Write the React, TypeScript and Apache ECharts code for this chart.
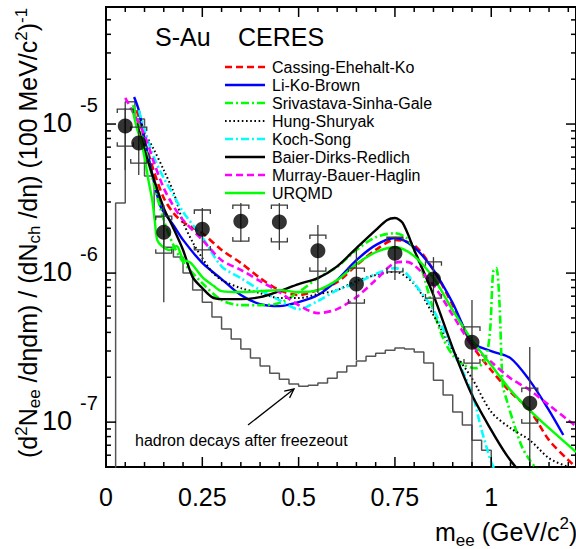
import React, { useEffect, useRef } from "react";
import * as echarts from "echarts";

const FONT = '"Liberation Sans", Arial, Helvetica, sans-serif';

// Axis ranges
const X_MIN = 0;
const X_MAX = 1.22;
const Y_MIN = 5e-8;
const Y_MAX = 6.1e-5;

// Tick positions and labels
const xMajorTicks = [0, 0.25, 0.5, 0.75, 1];
const xTickLabels = ["0", "0.25", "0.5", "0.75", "1"];
const xMinorTicks = [0.05, 0.1, 0.15, 0.2, 0.3, 0.35, 0.4, 0.45, 0.55, 0.6, 0.65, 0.7, 0.8, 0.85, 0.9, 0.95, 1.05, 1.1, 1.15, 1.2];
const yMajorTicks = [1e-7, 1e-6, 1e-5];
const yTickExponents = ["-7", "-6", "-5"];
const yMinorTicks = [6e-8, 7e-8, 8e-8, 9e-8, 2e-7, 3e-7, 4e-7, 5e-7, 6e-7, 7e-7, 8e-7, 9e-7, 2e-6, 3e-6, 4e-6, 5e-6, 6e-6, 7e-6, 8e-6, 9e-6, 2e-5, 3e-5, 4e-5, 5e-5];

// CERES S-Au measured points (mass in GeV/c^2)
const dataMass = [0.05, 0.085, 0.15, 0.25, 0.35, 0.45, 0.55, 0.65, 0.75, 0.85, 0.95, 1.1];
const dataYield = [9.7e-6, 7.45e-6, 1.88e-6, 1.97e-6, 2.23e-6, 2.2e-6, 1.41e-6, 8.44e-7, 1.36e-6, 9.12e-7, 3.44e-7, 1.34e-7];
const statHigh = [1.28e-5, 9.55e-6, 2.86e-6, 2.73e-6, 2.95e-6, 2.95e-6, 2.1e-6, 1.43e-6, 1.74e-6, 1.28e-6, 6.59e-7, 3.19e-7];
const statLow = [4.91e-6, 4.55e-6, 6.38e-7, 1.19e-6, 1.62e-6, 1.43e-6, 7.34e-7, 2.61e-7, 8.98e-7, 5.39e-7, 1e-8, 1e-8];
const sysHigh = [1.26e-5, 9.55e-6, 2.41e-6, 2.65e-6, 2.86e-6, 2.86e-6, 1.8e-6, 1.08e-6, 1.74e-6, 1.19e-6, 4.35e-7, 1.69e-7];
const sysLow = [7.11e-6, 5.47e-6, 1.36e-6, 1.43e-6, 1.64e-6, 1.62e-6, 1.03e-6, 6.29e-7, 1.02e-6, 6.8e-7, 2.49e-7, 9.85e-8];

// Hadron decay cocktail histogram (bin left edges, 0.025 GeV wide)
const histEdges = [0.025, 0.05, 0.075, 0.1, 0.125, 0.15, 0.175, 0.2, 0.225, 0.25, 0.275, 0.3, 0.325, 0.35, 0.375, 0.4, 0.425, 0.45, 0.475, 0.5, 0.525, 0.55, 0.575, 0.6, 0.625, 0.65, 0.675, 0.7, 0.725, 0.75, 0.775, 0.8, 0.825, 0.85, 0.875, 0.9, 0.925, 0.95, 0.975, 1.0];
const histCounts = [2.95e-6, 1.41e-5, 1.08e-5, 4.48e-6, 2.38e-6, 1.49e-6, 1.28e-6, 1.0e-6, 7.69e-7, 6.38e-7, 5.07e-7, 4.21e-7, 3.61e-7, 3.09e-7, 2.69e-7, 2.38e-7, 2.13e-7, 1.94e-7, 1.8e-7, 1.74e-7, 1.77e-7, 1.83e-7, 1.97e-7, 2.17e-7, 2.38e-7, 2.57e-7, 2.77e-7, 2.9e-7, 3.04e-7, 3.14e-7, 3.09e-7, 2.95e-7, 2.49e-7, 1.91e-7, 1.52e-7, 1.17e-7, 9.55e-8, 7.57e-8, 6.48e-8, 4.5e-8];
const HIST_END = 1.025;

// Model calculations
const cassingEhehaltKo = [[0.08, 1.24e-5], [0.1, 7.81e-6], [0.125, 4.76e-6], [0.15, 3.19e-6], [0.175, 2.53e-6], [0.2, 2.2e-6], [0.25, 1.85e-6], [0.3, 1.43e-6], [0.35, 1.17e-6], [0.4, 9.26e-7], [0.45, 7.69e-7], [0.5, 7.12e-7], [0.55, 7.69e-7], [0.6, 8.7e-7], [0.65, 1.13e-6], [0.7, 1.43e-6], [0.75, 1.67e-6], [0.8, 1.54e-6], [0.85, 1.05e-6], [0.9, 6.1e-7], [0.95, 3.29e-7], [1.0, 2.23e-7], [1.05, 1.59e-7], [1.1, 1.2e-7], [1.15, 7.57e-8], [1.2, 5.56e-8], [1.22, 5.0e-8]];
const liKoBrown = [[0.073, 1.52e-5], [0.085, 1.24e-5], [0.1, 7.81e-6], [0.115, 5.31e-6], [0.125, 4.02e-6], [0.14, 2.86e-6], [0.15, 2.57e-6], [0.175, 2.1e-6], [0.2, 1.67e-6], [0.25, 1.17e-6], [0.3, 9.12e-7], [0.35, 7.12e-7], [0.4, 6.19e-7], [0.45, 6.0e-7], [0.5, 6.38e-7], [0.55, 7.12e-7], [0.6, 8.98e-7], [0.65, 1.22e-6], [0.7, 1.54e-6], [0.75, 1.72e-6], [0.8, 1.49e-6], [0.85, 1.05e-6], [0.9, 6.3e-7], [0.95, 3.44e-7], [1.0, 3.0e-7], [1.05, 2.69e-7], [1.1, 1.9e-7], [1.15, 1.2e-7], [1.187, 8.2e-8]];
const srivastavaSinhaGale = [[0.07, 1.34e-5], [0.1, 7.23e-6], [0.125, 3.9e-6], [0.15, 2.27e-6], [0.175, 1.54e-6], [0.2, 1.19e-6], [0.25, 8.57e-7], [0.3, 6.59e-7], [0.35, 6.1e-7], [0.4, 6.1e-7], [0.45, 6.29e-7], [0.5, 7.46e-7], [0.55, 9.26e-7], [0.6, 1.1e-6], [0.65, 1.43e-6], [0.7, 1.74e-6], [0.75, 1.85e-6], [0.78, 1.72e-6], [0.8, 1.43e-6], [0.82, 1.05e-6], [0.85, 5.64e-7], [0.875, 3.66e-7], [0.9, 2.82e-7], [0.93, 2.41e-7], [0.96, 2.3e-7], [0.985, 2.69e-7], [0.997, 4.14e-7], [1.005, 1.02e-6], [1.013, 1.08e-6], [1.021, 6.59e-7], [1.03, 1.77e-7], [1.04, 1.41e-7], [1.06, 9.55e-8], [1.08, 6.8e-8], [1.1, 5.56e-8], [1.12, 4.77e-8]];
const hungShuryak = [[0.09, 1.06e-5], [0.1, 8.84e-6], [0.125, 6.69e-6], [0.15, 4.91e-6], [0.175, 3.5e-6], [0.2, 2.2e-6], [0.225, 1.61e-6], [0.25, 1.26e-6], [0.275, 1.02e-6], [0.3, 8.98e-7], [0.35, 7.93e-7], [0.4, 7.34e-7], [0.45, 6.8e-7], [0.5, 6.8e-7], [0.55, 7.23e-7], [0.6, 7.69e-7], [0.65, 8.84e-7], [0.7, 9.7e-7], [0.75, 1.02e-6], [0.8, 8.44e-7], [0.85, 5.22e-7], [0.9, 3.04e-7], [0.95, 1.97e-7], [1.0, 1.17e-7], [1.05, 9.11e-8], [1.1, 7.57e-8], [1.15, 5.73e-8], [1.2, 5.0e-8], [1.22, 4.8e-8]];
const kochSong = [[0.085, 1.24e-5], [0.1, 9.11e-6], [0.125, 5.91e-6], [0.15, 4.34e-6], [0.175, 3.34e-6], [0.2, 2.57e-6], [0.25, 1.74e-6], [0.3, 1.11e-6], [0.35, 9.26e-7], [0.4, 7.69e-7], [0.45, 6.59e-7], [0.5, 5.73e-7], [0.55, 6.5e-7], [0.6, 7.69e-7], [0.65, 8.57e-7], [0.7, 9.85e-7], [0.75, 1.08e-6], [0.775, 1.02e-6], [0.8, 8.57e-7], [0.85, 5.64e-7], [0.9, 3.04e-7], [0.95, 1.56e-7], [0.975, 8.84e-8], [1.0, 5.39e-8], [1.01, 4.77e-8]];
const baierDirksRedlich = [[0.08, 1.02e-5], [0.1, 6.69e-6], [0.125, 4.21e-6], [0.15, 2.73e-6], [0.175, 2.0e-6], [0.2, 1.43e-6], [0.225, 9.4e-7], [0.25, 7.93e-7], [0.275, 6.9e-7], [0.3, 6.69e-7], [0.35, 6.69e-7], [0.4, 6.9e-7], [0.45, 7.57e-7], [0.5, 8.44e-7], [0.55, 9.26e-7], [0.6, 1.11e-6], [0.65, 1.47e-6], [0.7, 1.94e-6], [0.73, 2.27e-6], [0.75, 2.34e-6], [0.77, 2.17e-6], [0.8, 1.43e-6], [0.85, 7.12e-7], [0.9, 3.14e-7], [0.95, 1.52e-7], [1.0, 8.84e-8], [1.04, 6.0e-8], [1.07, 4.77e-8]];
const murrayBauerHaglin = [[0.05, 1.5e-5], [0.07, 1.2e-5], [0.1, 8.44e-6], [0.125, 5.47e-6], [0.15, 3.72e-6], [0.175, 2.82e-6], [0.2, 2.27e-6], [0.25, 1.67e-6], [0.3, 1.22e-6], [0.35, 1.05e-6], [0.4, 8.84e-7], [0.45, 7.46e-7], [0.5, 6.1e-7], [0.55, 5.39e-7], [0.6, 5.73e-7], [0.65, 6.9e-7], [0.7, 8.98e-7], [0.75, 1.17e-6], [0.78, 1.19e-6], [0.8, 1.13e-6], [0.85, 8.31e-7], [0.9, 5.22e-7], [0.95, 3.29e-7], [1.0, 2.53e-7], [1.05, 1.97e-7], [1.1, 1.64e-7], [1.15, 1.3e-7], [1.2, 1.03e-7], [1.22, 9.4e-8]];
const urqmd = [[0.068, 1.28e-5], [0.08, 9.4e-6], [0.09, 7.81e-6], [0.1, 6.0e-6], [0.11, 4.21e-6], [0.12, 3.09e-6], [0.127, 2.2e-6], [0.133, 1.67e-6], [0.145, 1.52e-6], [0.165, 1.43e-6], [0.183, 1.52e-6], [0.2, 1.24e-6], [0.22, 1.17e-6], [0.25, 9.4e-7], [0.28, 8.18e-7], [0.3, 7.57e-7], [0.35, 7.46e-7], [0.4, 7.57e-7], [0.45, 7.69e-7], [0.5, 7.46e-7], [0.55, 7.69e-7], [0.6, 8.98e-7], [0.65, 1.15e-6], [0.7, 1.38e-6], [0.75, 1.49e-6], [0.8, 1.3e-6], [0.85, 9.26e-7], [0.9, 5.64e-7], [0.95, 3.55e-7], [1.0, 2.41e-7], [1.05, 1.64e-7], [1.1, 1.2e-7], [1.15, 9.11e-8], [1.2, 7.01e-8], [1.22, 6.29e-8]];

const DASH = [7, 4];
const DASH_DOT = [8, 3, 2, 3];
const DOT = [1.6, 2.6];

const models: any[] = [
  { name: "Cassing-Ehehalt-Ko", color: "#ff0000", width: 2.6, dash: DASH, data: cassingEhehaltKo },
  { name: "Li-Ko-Brown", color: "#0000ff", width: 2.4, dash: null, data: liKoBrown },
  { name: "Srivastava-Sinha-Gale", color: "#00ff00", width: 2.6, dash: DASH_DOT, data: srivastavaSinhaGale },
  { name: "Hung-Shuryak", color: "#000000", width: 2, dash: DOT, data: hungShuryak },
  { name: "Koch-Song", color: "#00ffff", width: 2.6, dash: DASH_DOT, data: kochSong },
  { name: "Baier-Dirks-Redlich", color: "#000000", width: 2.4, dash: null, data: baierDirksRedlich },
  { name: "Murray-Bauer-Haglin", color: "#ff00ff", width: 2.6, dash: DASH, data: murrayBauerHaglin },
  { name: "URQMD", color: "#00ff00", width: 2.4, dash: null, data: urqmd },
];

const ctx2d = typeof document !== "undefined" ? document.createElement("canvas").getContext("2d") : null;
function textWidth(t: string, size: number): number {
  if (!ctx2d) return t.length * size * 0.55;
  ctx2d.font = `${size}px ${FONT}`;
  return ctx2d.measureText(t).width;
}

// Lay out a run of text pieces (normal / sub / sup) one after another.
function textRun(pieces: { t: string; size: number; dy: number }[]): any[] {
  let x = 0;
  return pieces.map((p) => {
    const el = {
      type: "text",
      x,
      y: p.dy,
      silent: true,
      style: { text: p.t, fontSize: p.size, fontFamily: FONT, fill: "#000", align: "left", verticalAlign: "middle" },
    };
    x += textWidth(p.t, p.size);
    return el;
  });
}

function buildOption(): any {
  const M = 25;
  const S = 17;
  const yTitle = textRun([
    { t: "(d", size: M, dy: -7.7 },
    { t: "2", size: S, dy: -14.5 },
    { t: "N", size: M, dy: -7.7 },
    { t: "ee", size: S, dy: -1.3 },
    { t: " /dηdm) / (dN", size: M, dy: -7.7 },
    { t: "ch", size: S, dy: -1.3 },
    { t: " /dη) (100 MeV/c", size: M, dy: -7.7 },
    { t: "2", size: S, dy: -14.5 },
    { t: ")", size: M, dy: -7.7 },
    { t: "-1", size: S, dy: -14.5 },
  ]);
  const xTitle = textRun([
    { t: "m", size: M, dy: 0 },
    { t: "ee", size: S, dy: 8 },
    { t: " (GeV/c", size: M, dy: 0 },
    { t: "2", size: S, dy: -9 },
    { t: ")", size: M, dy: 0 },
  ]);

  const legendTop = 67;
  const legendStep = 18;
  const legendEls: any[] = [];
  models.forEach((m, i) => {
    const y = legendTop + i * legendStep;
    legendEls.push({
      type: "line",
      silent: true,
      shape: { x1: 225, y1: y, x2: 265, y2: y },
      style: { stroke: m.color, lineWidth: m.width, lineDash: m.dash || undefined },
    });
    legendEls.push({
      type: "text",
      silent: true,
      x: 272,
      y: y,
      style: { text: m.name, fontSize: 16, fontFamily: FONT, fill: "#000", align: "left", verticalAlign: "middle" },
    });
  });

  const lineSeries = models.map((m) => ({
    type: "line",
    name: m.name,
    data: m.data,
    showSymbol: false,
    symbol: "none",
    smooth: 0.3,
    silent: true,
    z: 3,
    lineStyle: { color: m.color, width: m.width, type: m.dash || "solid", cap: "butt" },
  }));

  const histData: any[] = [[histEdges[0], 1e-9]];
  histEdges.forEach((e, i) => histData.push([e, histCounts[i]]));
  histData.push([HIST_END, histCounts[histCounts.length - 1]]);

  return {
    animation: false,
    backgroundColor: "#fff",
    grid: {
      left: 106,
      top: 7,
      width: 470,
      height: 460,
      show: true,
      borderColor: "#000",
      borderWidth: 2,
      backgroundColor: "transparent",
    },
    xAxis: {
      type: "value",
      min: X_MIN,
      max: X_MAX,
      axisLine: { show: false },
      axisTick: { show: false },
      axisLabel: { show: false },
      splitLine: { show: false },
    },
    yAxis: {
      type: "log",
      logBase: 10,
      min: Y_MIN,
      max: Y_MAX,
      axisLine: { show: false },
      axisTick: { show: false },
      axisLabel: { show: false },
      splitLine: { show: false },
    },
    graphic: [
      { type: "text", x: 155, y: 37, silent: true, style: { text: "S-Au", fontSize: 25, fontFamily: FONT, fill: "#000", verticalAlign: "middle" } },
      { type: "text", x: 238, y: 37, silent: true, style: { text: "CERES", fontSize: 25, fontFamily: FONT, fill: "#000", verticalAlign: "middle" } },
      ...legendEls,
      { type: "text", x: 135, y: 440, silent: true, style: { text: "hadron decays after freezeout", fontSize: 16, fontFamily: FONT, fill: "#000", verticalAlign: "middle" } },
      { type: "line", silent: true, shape: { x1: 248, y1: 425, x2: 294, y2: 389 }, style: { stroke: "#000", lineWidth: 1.3 } },
      { type: "polyline", silent: true, shape: { points: [[284.2, 391.2], [294, 389], [289.6, 397.9]] }, style: { stroke: "#000", lineWidth: 1.3, fill: null } },
      { type: "group", x: 36, y: 458, rotation: Math.PI / 2, children: yTitle },
      { type: "group", x: 435, y: 532, children: xTitle },
    ],
    series: [
      {
        type: "line",
        name: "hadron decays",
        data: histData,
        step: "end",
        showSymbol: false,
        symbol: "none",
        silent: true,
        z: 2,
        lineStyle: { color: "#555", width: 1.5 },
      },
      ...lineSeries,
      {
        type: "custom",
        name: "errors",
        data: dataMass.map((m, i) => [m, dataYield[i]]),
        clip: false,
        silent: true,
        z: 4,
        renderItem: (params: any, api: any) => {
          const i = params.dataIndex;
          const cs = params.coordSys;
          const clampY = (y: number) => Math.min(Math.max(y, cs.y), cs.y + cs.height);
          const x = api.coord([dataMass[i], dataYield[i]])[0];
          const py = (v: number) => clampY(api.coord([dataMass[i], v])[1]);
          const sh = py(statHigh[i]);
          const sl = py(statLow[i]);
          const yh = py(sysHigh[i]);
          const yl = py(sysLow[i]);
          const hw = 8;
          const cap = 4;
          const st = { stroke: "#3a3a3a", lineWidth: 1.3, fill: null };
          return {
            type: "group",
            children: [
              { type: "line", shape: { x1: x, y1: sh, x2: x, y2: sl }, style: st },
              { type: "polyline", shape: { points: [[x - hw, yh + cap], [x - hw, yh], [x + hw, yh], [x + hw, yh + cap]] }, style: st },
              { type: "polyline", shape: { points: [[x - hw, yl - cap], [x - hw, yl], [x + hw, yl], [x + hw, yl - cap]] }, style: st },
            ],
          };
        },
      },
      {
        type: "scatter",
        name: "CERES",
        data: dataMass.map((m, i) => [m, dataYield[i]]),
        symbol: "circle",
        symbolSize: 15,
        itemStyle: { color: "#000" },
        silent: true,
        z: 5,
      },
      {
        type: "custom",
        name: "axes",
        data: [[0.5, 1e-6]],
        clip: false,
        silent: true,
        z: 6,
        renderItem: (params: any, api: any) => {
          const cs = params.coordSys;
          const left = cs.x;
          const right = cs.x + cs.width;
          const top = cs.y;
          const bottom = cs.y + cs.height;
          const tick = { stroke: "#000", lineWidth: 1.5 };
          const els: any[] = [];
          yMajorTicks.forEach((v, i) => {
            const y = api.coord([X_MIN, v])[1];
            els.push({ type: "line", shape: { x1: left, y1: y, x2: left + 10, y2: y }, style: tick });
            els.push({ type: "line", shape: { x1: right - 10, y1: y, x2: right, y2: y }, style: tick });
            els.push({ type: "text", x: left - 34, y: y - 1, style: { text: "10", fontSize: 27, fontFamily: FONT, fill: "#000", align: "right", verticalAlign: "middle" } });
            els.push({ type: "text", x: left - 26, y: y - 19, style: { text: yTickExponents[i], fontSize: 20, fontFamily: FONT, fill: "#000", align: "left", verticalAlign: "middle" } });
          });
          yMinorTicks.forEach((v) => {
            const y = api.coord([X_MIN, v])[1];
            els.push({ type: "line", shape: { x1: left, y1: y, x2: left + 5, y2: y }, style: tick });
            els.push({ type: "line", shape: { x1: right - 5, y1: y, x2: right, y2: y }, style: tick });
          });
          xMajorTicks.forEach((v, i) => {
            const x = api.coord([v, Y_MIN])[0];
            els.push({ type: "line", shape: { x1: x, y1: bottom, x2: x, y2: bottom - 10 }, style: tick });
            els.push({ type: "line", shape: { x1: x, y1: top, x2: x, y2: top + 10 }, style: tick });
            els.push({ type: "text", x, y: bottom + 30, style: { text: xTickLabels[i], fontSize: 25, fontFamily: FONT, fill: "#000", align: "center", verticalAlign: "middle" } });
          });
          xMinorTicks.forEach((v) => {
            const x = api.coord([v, Y_MIN])[0];
            els.push({ type: "line", shape: { x1: x, y1: bottom, x2: x, y2: bottom - 5 }, style: tick });
            els.push({ type: "line", shape: { x1: x, y1: top, x2: x, y2: top + 5 }, style: tick });
          });
          return { type: "group", children: els };
        },
      },
    ],
  };
}

export default function App() {
  const ref = useRef<HTMLDivElement>(null);
  useEffect(() => {
    if (!ref.current) return;
    const chart = echarts.init(ref.current, null, { renderer: "svg" });
    chart.setOption(buildOption());
    return () => chart.dispose();
  }, []);
  return (
    <div
      ref={ref}
      style={{ position: "fixed", left: 0, top: 0, width: 576, height: 549, background: "#fff" }}
    />
  );
}
